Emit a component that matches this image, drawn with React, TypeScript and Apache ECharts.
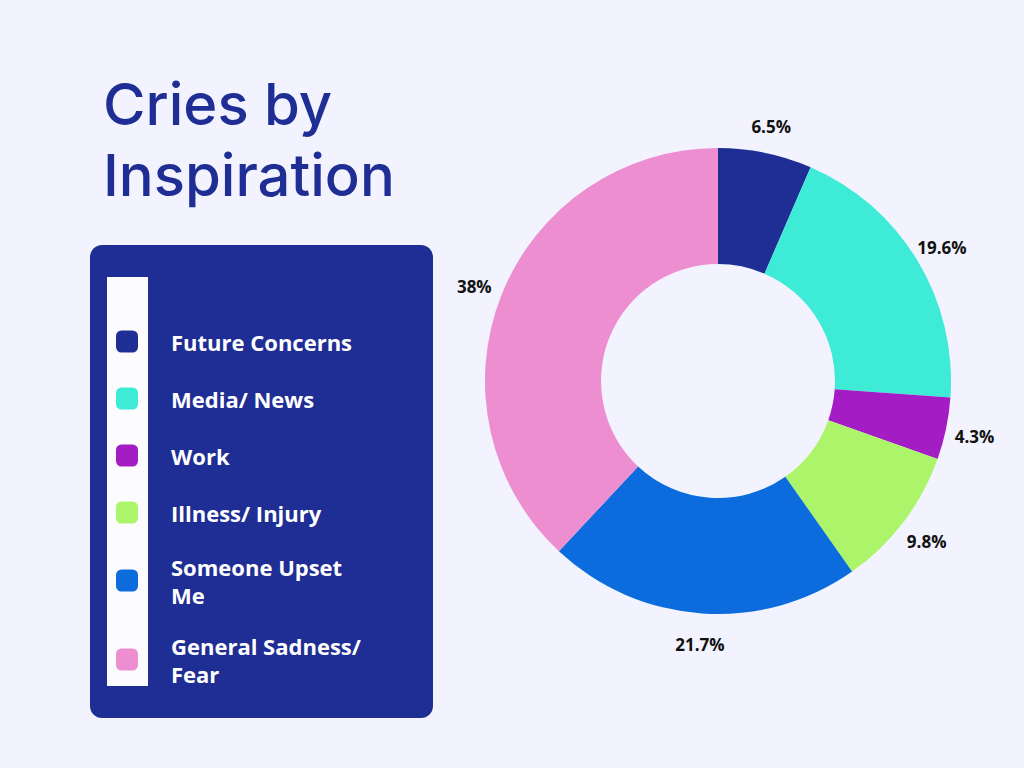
import React, { useEffect, useRef } from "react";
import * as echarts from "echarts";

const categories = [
  "Future Concerns",
  "Media/ News",
  "Work",
  "Illness/ Injury",
  "Someone Upset Me",
  "General Sadness/ Fear",
];
const legendLabels = [
  "Future Concerns",
  "Media/ News",
  "Work",
  "Illness/ Injury",
  "Someone Upset\nMe",
  "General Sadness/\nFear",
];
const values = [6.5, 19.6, 4.3, 9.8, 21.7, 38];
const colors = ["#1F2E94", "#3DEBD6", "#A31CC4", "#ACF56A", "#0C6CDE", "#EC8ECF"];

export default function App() {
  const ref = useRef<HTMLDivElement>(null);
  useEffect(() => {
    document.body.style.margin = "0";
    const chart = echarts.init(ref.current!, null, { renderer: "svg" });
    const labelMap: Record<string, string> = {};
    categories.forEach((c, i) => (labelMap[c] = legendLabels[i]));
    const pieData = categories.map((c, i) => ({
      name: c,
      value: values[i],
      itemStyle: { color: colors[i] },
    }));
    chart.setOption({
      animation: false,
      backgroundColor: "#F2F3FE",
      graphic: [
        {
          type: "text",
          left: 103,
          top: 68,
          style: {
            text: "Cries by\nInspiration",
            font: '500 58px "Inter"',
            fill: "#1F2E94",
            lineHeight: 71,
          },
        },
        {
          type: "rect",
          shape: { x: 90, y: 245, width: 343, height: 473, r: 12 },
          style: { fill: "#1F2E94" },
          z: -10,
        },
        {
          type: "rect",
          shape: { x: 107, y: 277, width: 41, height: 409 },
          style: { fill: "#FCFCFF" },
          z: -9,
        },
      ],
      legend: {
        orient: "vertical",
        left: 116,
        top: 323,
        padding: 0,
        itemWidth: 22,
        itemHeight: 22,
        itemGap: 20,
        icon: "roundRect",
        selectedMode: false,
        formatter: (name: string) => labelMap[name] ?? name,
        textStyle: {
          color: "#FFFFFF",
          fontSize: 22,
          fontWeight: "bold",
          fontFamily: "Open Sans",
          lineHeight: 27,
          padding: [1, 0, 9, 28],
        },
        data: categories.map((c, i) =>
          legendLabels[i].includes("\n")
            ? { name: c, textStyle: { padding: [3, 0, 0, 28], lineHeight: 28 } }
            : { name: c }
        ),
      },
      series: [
        {
          type: "pie",
          center: [718, 381],
          radius: [117, 233],
          startAngle: 90,
          clockwise: true,
          label: { show: false },
          labelLine: { show: false },
          emphasis: { disabled: true },
          data: pieData,
        },
        {
          type: "pie",
          center: [718, 383],
          radius: [246, 272],
          startAngle: 90,
          clockwise: true,
          silent: true,
          itemStyle: { color: "rgba(0,0,0,0)" },
          label: {
            show: true,
            position: "inside",
            formatter: (p: any) => `${p.value}%`,
            color: "#111111",
            fontSize: 17,
            fontWeight: "bold",
            fontFamily: "Open Sans",
          },
          labelLine: { show: false },
          emphasis: { disabled: true },
          data: categories.map((c, i) => ({
            name: c,
            value: values[i],
            itemStyle: { color: "rgba(0,0,0,0)" },
          })),
        },
      ],
    });
    return () => chart.dispose();
  }, []);
  return <div ref={ref} style={{ width: 1024, height: 768 }} />;
}
